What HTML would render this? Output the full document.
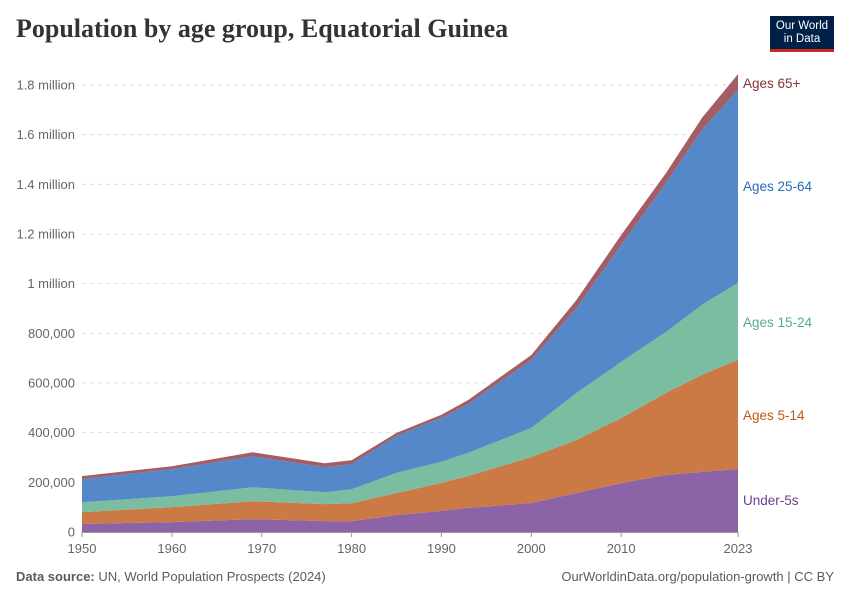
<!DOCTYPE html>
<html><head><meta charset="utf-8"><style>
body{margin:0;background:#fff;font-family:"Liberation Sans",sans-serif;}
#wrap{position:relative;width:850px;height:600px;overflow:hidden;}
</style></head><body>
<div id="wrap">
<div style="position:absolute;left:16px;top:14px;font-family:'Liberation Serif',serif;font-size:26px;font-weight:bold;color:#333;">Population by age group, Equatorial Guinea</div>
<div style="position:absolute;left:770px;top:16px;width:64px;height:36px;background:#002147;border-bottom:3px solid #ce261e;color:#fff;font-size:11.5px;line-height:13px;text-align:center;padding-top:4px;box-sizing:border-box;">Our World<br>in Data</div>
<svg id="chart" width="850" height="600" style="position:absolute;left:0;top:0"></svg>
<div style="position:absolute;left:16px;top:569px;font-size:13px;color:#5b5b5b;"><b>Data source:</b> UN, World Population Prospects (2024)</div>
<div style="position:absolute;right:16px;top:569px;font-size:13px;color:#5b5b5b;">OurWorldinData.org/population-growth | CC BY</div>
</div>
<script>
const years=[1950,1960,1969,1977,1980,1985,1990,1993,2000,2005,2010,2015,2019,2023];
const under5=[32,40,52,44,44,68,85,97,117,157,197,230,242,254];
const ages5to14=[48,60,72,68,72,89,113,129,185,213,262,330,391,439];
const ages15to24=[40,44,56,48,56,81,85,93,117,189,226,246,282,310];
const ages25to64=[93,109,125,101,101,149,177,197,274,342,471,600,705,777];
const ages65plus=[12,12,16,16,16,12,12,16,20,32,40,40,48,64];
const yTicks=[0,200,400,600,800,1000,1200,1400,1600,1800];
const yTickLabels=["0","200,000","400,000","600,000","800,000","1 million","1.2 million","1.4 million","1.6 million","1.8 million"];
const xTicks=[1950,1960,1970,1980,1990,2000,2010,2023];
const seriesNames=["Under-5s","Ages 5-14","Ages 15-24","Ages 25-64","Ages 65+"];
const seriesColors=["#8c63a6","#cc7a45","#7bbda0","#5588c8","#a35d64"];
const labelColors=["#6d3e91","#c05917","#58ac8c","#286bbb","#883039"];
const labelY=[500,415,322,186,83];

const svg=document.getElementById('chart');const NS="http://www.w3.org/2000/svg";
const x0=82,x1=738,y0=532,y1=85;
const xs=y=>x0+(y-1950)/(2023-1950)*(x1-x0);
const ys=v=>y0-v/1800*(y0-y1);
function mk(t,a){const e=document.createElementNS(NS,t);for(const k in a)e.setAttribute(k,a[k]);svg.appendChild(e);return e;}
yTicks.forEach((t,i)=>{
 if(t>0){const l=mk('line',{x1:x0,x2:x1,y1:ys(t),y2:ys(t),stroke:'#ddd','stroke-dasharray':'4,4'});
 
 }
 const tx=mk('text',{x:75,y:ys(t)+4.5,'text-anchor':'end','font-size':13,fill:'#666','font-family':'Liberation Sans, sans-serif'});tx.textContent=yTickLabels[i];
 
 
});
const series=[under5,ages5to14,ages15to24,ages25to64,ages65plus];
let base=years.map(()=>0);
series.forEach((s,si)=>{
 const top=base.map((b,i)=>b+s[i]);
 let d='M'+years.map((y,i)=>xs(y)+','+ys(top[i])).join('L');
 for(let i=years.length-1;i>=0;i--)d+='L'+xs(years[i])+','+ys(base[i]);
 const p=mk('path',{d:d+'Z',fill:seriesColors[si]});
 
 
 const t=mk('text',{x:743,y:labelY[si]+5,'font-size':13.5,fill:labelColors[si],'font-family':'Liberation Sans, sans-serif'});t.textContent=seriesNames[si];
 
 
 base=top;
});
const ax=mk('line',{x1:x0,x2:x1,y1:y0+0.5,y2:y0+0.5,stroke:'#999'});


xTicks.forEach(t=>{
 const l=mk('line',{x1:xs(t),x2:xs(t),y1:y0,y2:y0+5,stroke:'#999'});
 
 
 const tx=mk('text',{x:xs(t),y:y0+21,'text-anchor':'middle','font-size':13,fill:'#666','font-family':'Liberation Sans, sans-serif'});tx.textContent=t;
 
 
});
</script>
</body></html>
